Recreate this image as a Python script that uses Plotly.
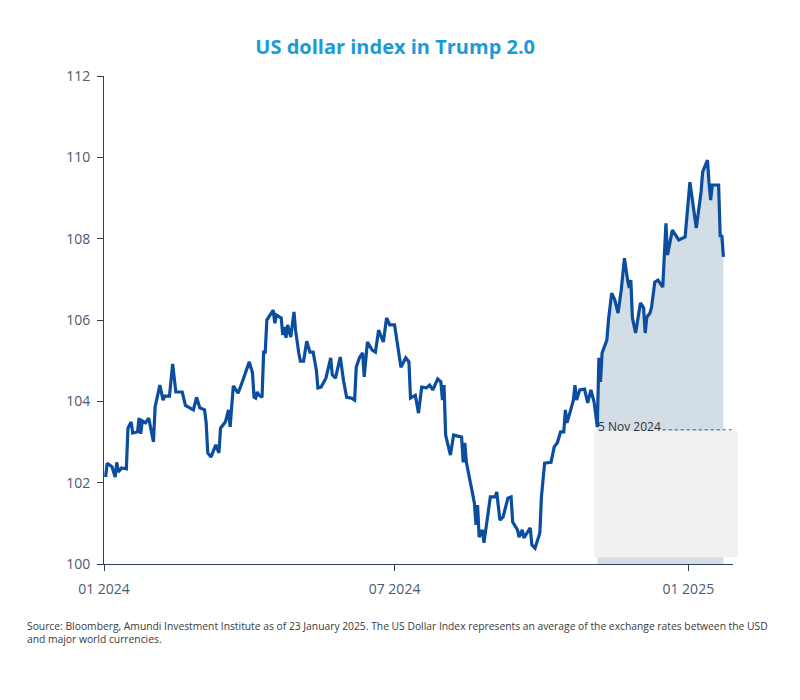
import plotly.graph_objects as go

# ---- data ----
dates = [
    "2024-01-02", "2024-01-03", "2024-01-06", "2024-01-08", "2024-01-09", "2024-01-10",
    "2024-01-12", "2024-01-15", "2024-01-16", "2024-01-18", "2024-01-19", "2024-01-22",
    "2024-01-23", "2024-01-24", "2024-01-25", "2024-01-27", "2024-01-29", "2024-02-01",
    "2024-02-02", "2024-02-05", "2024-02-07", "2024-02-08", "2024-02-11", "2024-02-13",
    "2024-02-15", "2024-02-19", "2024-02-21", "2024-02-26", "2024-02-28", "2024-03-01",
    "2024-03-04", "2024-03-05", "2024-03-06", "2024-03-08", "2024-03-11", "2024-03-13",
    "2024-03-14", "2024-03-17", "2024-03-19", "2024-03-20", "2024-03-22", "2024-03-25",
    "2024-03-28", "2024-04-01", "2024-04-03", "2024-04-04", "2024-04-05", "2024-04-06",
    "2024-04-07", "2024-04-09", "2024-04-10", "2024-04-11", "2024-04-12", "2024-04-15",
    "2024-04-16", "2024-04-17", "2024-04-18", "2024-04-21", "2024-04-22", "2024-04-23",
    "2024-04-24", "2024-04-25", "2024-04-27", "2024-04-29", "2024-04-30", "2024-05-02",
    "2024-05-03", "2024-05-05", "2024-05-07", "2024-05-09", "2024-05-11", "2024-05-13",
    "2024-05-14", "2024-05-16", "2024-05-19", "2024-05-22", "2024-05-23", "2024-05-25",
    "2024-05-28", "2024-05-30", "2024-06-01", "2024-06-04", "2024-06-06", "2024-06-07",
    "2024-06-09", "2024-06-11", "2024-06-12", "2024-06-14", "2024-06-17", "2024-06-19",
    "2024-06-21", "2024-06-24", "2024-06-26", "2024-06-28", "2024-07-01", "2024-07-05",
    "2024-07-08", "2024-07-10", "2024-07-11", "2024-07-14", "2024-07-16", "2024-07-18",
    "2024-07-21", "2024-07-23", "2024-07-25", "2024-07-28", "2024-07-30", "2024-07-31",
    "2024-08-01", "2024-08-02", "2024-08-05", "2024-08-07", "2024-08-12", "2024-08-13",
    "2024-08-14", "2024-08-15", "2024-08-20", "2024-08-21", "2024-08-22", "2024-08-23",
    "2024-08-25", "2024-08-26", "2024-08-30", "2024-09-02", "2024-09-03", "2024-09-05",
    "2024-09-07", "2024-09-10", "2024-09-12", "2024-09-13", "2024-09-16", "2024-09-17",
    "2024-09-19", "2024-09-20", "2024-09-24", "2024-09-25", "2024-09-27", "2024-09-30",
    "2024-10-01", "2024-10-03", "2024-10-07", "2024-10-09", "2024-10-11", "2024-10-13",
    "2024-10-15", "2024-10-16", "2024-10-17", "2024-10-19", "2024-10-21", "2024-10-22",
    "2024-10-23", "2024-10-25", "2024-10-28", "2024-10-30", "2024-11-01", "2024-11-03",
    "2024-11-05", "2024-11-06", "2024-11-07", "2024-11-08", "2024-11-11", "2024-11-12",
    "2024-11-14", "2024-11-16", "2024-11-18", "2024-11-20", "2024-11-22", "2024-11-24",
    "2024-11-25", "2024-11-26", "2024-11-27", "2024-11-29", "2024-12-02", "2024-12-04",
    "2024-12-05", "2024-12-06", "2024-12-08", "2024-12-09", "2024-12-11", "2024-12-13",
    "2024-12-16", "2024-12-18", "2024-12-19", "2024-12-22", "2024-12-26", "2024-12-30",
    "2025-01-02", "2025-01-06", "2025-01-09", "2025-01-10", "2025-01-13", "2025-01-14",
    "2025-01-15", "2025-01-16", "2025-01-20", "2025-01-21", "2025-01-22", "2025-01-23",
]
dxy = [
    102.14, 102.48, 102.39, 102.14, 102.50, 102.26,
    102.36, 102.34, 103.34, 103.49, 103.22, 103.25,
    103.59, 103.20, 103.52, 103.47, 103.59, 103.00,
    103.86, 104.40, 104.03, 104.13, 104.13, 104.92,
    104.23, 104.23, 103.90, 103.79, 104.10, 103.84,
    103.79, 103.47, 102.73, 102.63, 102.93, 102.73,
    103.34, 103.49, 103.79, 103.37, 104.38, 104.20,
    104.52, 104.97, 104.70, 104.10, 104.08, 104.23,
    104.15, 104.10, 105.21, 105.21, 106.00, 106.20,
    106.24, 105.92, 106.12, 106.05, 105.63, 105.83,
    105.56, 105.88, 105.58, 106.20, 105.75, 105.19,
    104.99, 104.99, 105.48, 105.21, 105.21, 104.77,
    104.33, 104.35, 104.57, 105.07, 104.65, 104.57,
    105.09, 104.52, 104.10, 104.08, 104.03, 104.84,
    105.07, 105.19, 104.60, 105.46, 105.26, 105.21,
    105.75, 105.46, 106.05, 105.88, 105.88, 104.84,
    105.07, 104.97, 104.08, 104.15, 103.71, 104.35,
    104.33, 104.40, 104.28, 104.55, 104.48, 104.03,
    104.40, 103.17, 102.68, 103.17, 103.12, 102.50,
    102.98, 102.50, 101.50, 100.96, 101.45, 100.66,
    100.84, 100.52, 101.65, 101.65, 101.77, 101.08,
    101.16, 101.62, 101.65, 101.03, 100.84, 100.66,
    100.84, 100.64, 100.89, 100.47, 100.39, 100.76,
    101.65, 102.48, 102.50, 102.88, 102.98, 103.25,
    103.25, 103.79, 103.47, 103.74, 104.03, 104.40,
    104.03, 104.28, 104.30, 103.96, 104.28, 103.98,
    103.37, 105.07, 104.48, 105.19, 105.51, 106.00,
    106.66, 106.49, 106.17, 106.74, 107.52, 106.98,
    106.79, 106.98, 106.05, 105.68, 106.42, 106.30,
    105.68, 106.07, 106.17, 106.32, 106.93, 106.98,
    106.81, 108.38, 107.60, 108.21, 107.97, 108.04,
    109.39, 108.26, 109.15, 109.64, 109.93, 109.37,
    108.95, 109.32, 109.32, 108.04, 108.09, 107.55,
]
election_date = "2024-11-05"
election_label = "5 Nov 2024"
y_ticks = [100, 102, 104, 106, 108, 110, 112]
x_ticks = ["2024-01-01", "2024-07-01", "2025-01-01"]
x_range = ["2024-01-01", "2025-01-29"]
title_text = "US dollar index in Trump 2.0"
source_text = ("Source: Bloomberg, Amundi Investment Institute as of 23 January 2025. "
               "The US Dollar Index represents an average of the exchange rates between the USD"
               "<br>and major world currencies.")

# ---- styles ----
LINE = "#0b4ea0"
FILL = "#d3dde6"
AXIS = "#2e3f5c"
TICK = "#4b5a70"
FONT = "Open Sans"

start = dates.index(election_date)
post_dates = dates[start:]
post_vals = dxy[start:]
election_level = dxy[start]

fig = go.Figure()
fig.add_trace(go.Scatter(
    x=post_dates, y=post_vals, mode="lines", line=dict(width=0),
    fill="tozeroy", fillcolor=FILL, hoverinfo="skip", showlegend=False))
fig.add_trace(go.Scatter(
    x=dates, y=dxy, mode="lines", line=dict(color=LINE, width=3.2),
    showlegend=False))

# light box overlaying the lower part of the shaded area
fig.add_shape(type="rect", xref="paper", yref="paper",
              x0=0.779, x1=1.008, y0=0.014, y1=0.273,
              fillcolor="#f1f1f1", line=dict(width=0), layer="above")
# dotted reference line at the election-day level
fig.add_shape(type="line", xref="x", yref="y",
              x0="2024-12-16", x1="2025-01-29", y0=election_level - 0.07, y1=election_level - 0.07,
              line=dict(color="#555555", width=1, dash="dot"), layer="above")
fig.add_annotation(x=election_date, y=election_level - 0.07, xref="x", yref="y",
                   text=election_label, showarrow=False, xanchor="left", yanchor="bottom",
                   xshift=-1, yshift=-7, font=dict(family=FONT, size=12, color="#333333"))

fig.add_annotation(x=-0.1256, y=-0.108, xref="paper", yref="paper",
                   text=source_text, showarrow=False, xanchor="left", yanchor="top",
                   align="left", font=dict(family=FONT, size=10.3, color="#3a3a3a"))

fig.update_layout(
    width=800, height=700,
    paper_bgcolor="white", plot_bgcolor="white",
    margin=dict(l=96, r=75, t=68, b=144),
    title=dict(text="<b>" + title_text + "</b>", x=0.484, xanchor="center",
               xref="container", y=0.944, yanchor="middle",
               font=dict(family=FONT, size=20, color="#1a9bd8")),
    font=dict(family=FONT, color=TICK),
)
fig.update_xaxes(
    type="date", range=x_range, tickvals=x_ticks, tickformat="%m %Y",
    showgrid=False, zeroline=False, showline=True, linecolor=AXIS, linewidth=1,
    ticks="outside", ticklen=6, tickcolor=AXIS, ticklabelstandoff=6,
    tickfont=dict(size=14, color=TICK))
fig.update_yaxes(
    range=[100, 112], tickvals=y_ticks, showgrid=False, zeroline=False,
    showline=True, linecolor=AXIS, linewidth=1,
    ticks="outside", ticklen=6, tickcolor=AXIS, ticklabelstandoff=4,
    tickfont=dict(size=14, color=TICK))

fig.write_html("out.html")
